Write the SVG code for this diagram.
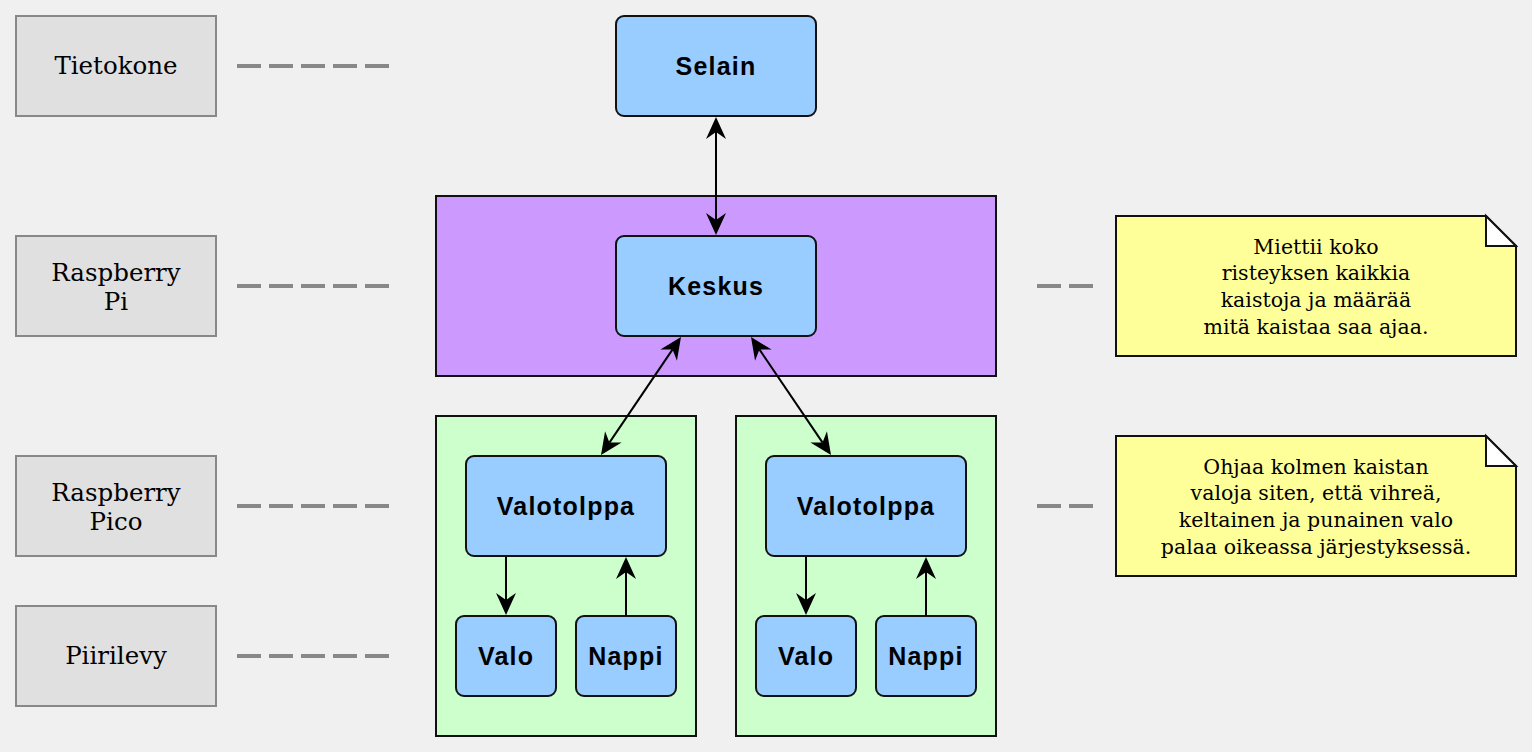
<svg xmlns="http://www.w3.org/2000/svg" width="1532" height="752" viewBox="0 0 1532 752">
<defs>
<style>
.bg{fill:#f0f0f0}
.tier{fill:#e0e0e0;stroke:#888888;stroke-width:2}
.tierText{font-family:"DejaVu Serif",Georgia,serif;font-size:24.5px;fill:#000;text-anchor:middle}
.dash{stroke:#888888;stroke-width:4;stroke-dasharray:24 8;fill:none}
.box{fill:#99ccff;stroke:#111;stroke-width:2}
.boxText{font-family:"Liberation Sans",Arial,sans-serif;font-weight:bold;font-size:25px;letter-spacing:1.2px;fill:#000;text-anchor:middle}
.pi{fill:#cc99ff;stroke:#111;stroke-width:2}
.pico{fill:#ccffcc;stroke:#111;stroke-width:2}
.note{fill:#ffff99;stroke:#111;stroke-width:2}
.fold{fill:#ffffff;stroke:#111;stroke-width:2;stroke-linejoin:miter}
.noteText{font-family:"DejaVu Serif",Georgia,serif;font-size:20.5px;fill:#000;text-anchor:middle}
.edge{stroke:#000;stroke-width:2;fill:none;marker-end:url(#ah)}
.bi{marker-start:url(#ah)}
</style>
<marker id="ah" viewBox="0 0 22 20" refX="7" refY="10" markerWidth="22" markerHeight="20" markerUnits="userSpaceOnUse" orient="auto-start-reverse">
<path d="M0,0 L22,10 L0,20 L7,10 Z" fill="#000"/>
</marker>
</defs>
<rect class="bg" x="0" y="0" width="1532" height="752"/>

<g id="tier-tietokone">
<rect class="tier" x="16" y="16" width="200" height="100"/>
<text class="tierText" x="116" y="74">Tietokone</text>
</g>
<g id="tier-raspberrypi">
<rect class="tier" x="16" y="236" width="200" height="100"/>
<text class="tierText" x="116" y="281">Raspberry</text>
<text class="tierText" x="116" y="310">Pi</text>
</g>
<g id="tier-raspberrypico">
<rect class="tier" x="16" y="456" width="200" height="100"/>
<text class="tierText" x="116" y="501">Raspberry</text>
<text class="tierText" x="116" y="530">Pico</text>
</g>
<g id="tier-piirilevy">
<rect class="tier" x="16" y="606" width="200" height="100"/>
<text class="tierText" x="116" y="664">Piirilevy</text>
</g>

<g id="tier-dashes">
<line class="dash" x1="237" y1="66" x2="389" y2="66"/>
<line class="dash" x1="237" y1="286" x2="389" y2="286"/>
<line class="dash" x1="237" y1="506" x2="389" y2="506"/>
<line class="dash" x1="237" y1="656" x2="389" y2="656"/>
<line class="dash" x1="1037" y1="286" x2="1093" y2="286"/>
<line class="dash" x1="1037" y1="506" x2="1093" y2="506"/>
</g>

<g id="cluster-pi">
<rect class="pi" x="436" y="196" width="560" height="180"/>
</g>
<g id="cluster-pico1">
<rect class="pico" x="436" y="416" width="260" height="320"/>
</g>
<g id="cluster-pico2">
<rect class="pico" x="736" y="416" width="260" height="320"/>
</g>

<g id="selain">
<rect class="box" x="616" y="16" width="200" height="100" rx="8"/>
<text class="boxText" x="716" y="75">Selain</text>
</g>
<g id="keskus">
<rect class="box" x="616" y="236" width="200" height="100" rx="8"/>
<text class="boxText" x="716" y="295">Keskus</text>
</g>
<g id="valotolppa1">
<rect class="box" x="466" y="456" width="200" height="100" rx="8"/>
<text class="boxText" x="566" y="515">Valotolppa</text>
</g>
<g id="valotolppa2">
<rect class="box" x="766" y="456" width="200" height="100" rx="8"/>
<text class="boxText" x="866" y="515">Valotolppa</text>
</g>
<g id="valo1">
<rect class="box" x="456" y="616" width="100" height="80" rx="8"/>
<text class="boxText" x="506" y="665">Valo</text>
</g>
<g id="nappi1">
<rect class="box" x="576" y="616" width="100" height="80" rx="8"/>
<text class="boxText" x="626" y="665">Nappi</text>
</g>
<g id="valo2">
<rect class="box" x="756" y="616" width="100" height="80" rx="8"/>
<text class="boxText" x="806" y="665">Valo</text>
</g>
<g id="nappi2">
<rect class="box" x="876" y="616" width="100" height="80" rx="8"/>
<text class="boxText" x="926" y="665">Nappi</text>
</g>

<g id="note-pi">
<path class="note" d="M1116,216 L1486,216 L1516,246 L1516,356 L1116,356 Z"/>
<path class="fold" d="M1486,216 L1486,246 L1516,246 Z"/>
<text class="noteText" x="1316" y="253.5">Miettii koko</text>
<text class="noteText" x="1316" y="280.2">risteyksen kaikkia</text>
<text class="noteText" x="1316" y="306.9">kaistoja ja määrää</text>
<text class="noteText" x="1316" y="333.6">mitä kaistaa saa ajaa.</text>
</g>
<g id="note-pico">
<path class="note" d="M1116,436 L1486,436 L1516,466 L1516,576 L1116,576 Z"/>
<path class="fold" d="M1486,436 L1486,466 L1516,466 Z"/>
<text class="noteText" x="1316" y="473.5">Ohjaa kolmen kaistan</text>
<text class="noteText" x="1316" y="500.2">valoja siten, että vihreä,</text>
<text class="noteText" x="1316" y="526.9">keltainen ja punainen valo</text>
<text class="noteText" x="1316" y="553.6">palaa oikeassa järjestyksessä.</text>
</g>

<g id="connectors">
<line class="edge bi" x1="716" y1="132" x2="716" y2="220"/>
<line class="edge bi" x1="672.58" y1="349.42" x2="609.42" y2="442.58"/>
<line class="edge bi" x1="759.42" y1="349.42" x2="822.58" y2="442.58"/>
<line class="edge" x1="506" y1="557" x2="506" y2="600"/>
<line class="edge" x1="626" y1="616" x2="626" y2="572"/>
<line class="edge" x1="806" y1="557" x2="806" y2="600"/>
<line class="edge" x1="926" y1="616" x2="926" y2="572"/>
</g>
</svg>
